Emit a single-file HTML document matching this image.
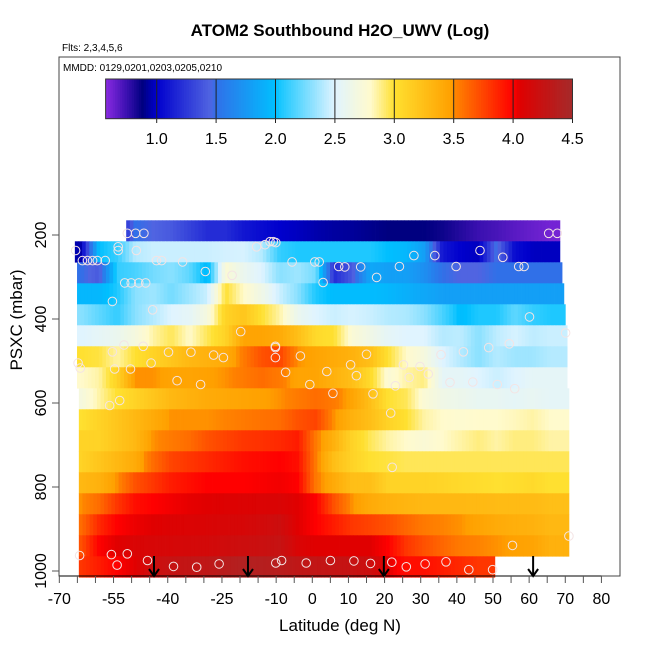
<!DOCTYPE html>
<html><head><meta charset="utf-8"><style>
html,body{margin:0;padding:0;background:#fff;}
svg{display:block;font-family:"Liberation Sans",Arial,sans-serif;}
</style></head><body>
<svg id="chart" width="650" height="650" viewBox="0 0 650 650">
<text x="340" y="36" text-anchor="middle" font-size="17" font-weight="bold">ATOM2 Southbound H2O_UWV (Log)</text>
<text x="62" y="51" font-size="10">Flts: 2,3,4,5,6</text>
<text x="63" y="71" font-size="10">MMDD: 0129,0201,0203,0205,0210</text>
<g id="heat"></g>
<g id="pts"></g>
<g id="arrows"></g>
<rect x="59" y="57" width="561" height="519" fill="none" stroke="#444" stroke-width="1"/>
<g id="cbar"></g>
<g id="xaxis"></g>
<g id="yaxis"></g>
<text x="340" y="631" text-anchor="middle" font-size="17">Latitude (deg N)</text>
<text transform="translate(22,320) rotate(-90)" text-anchor="middle" font-size="17">PSXC (mbar)</text>
</svg>
<script>
const colLats = [-64,-59,-54,-49,-44,-39,-34,-29,-24,-19,-14,-9,-4,1,6,11,16,21,26,31,36,41,46,51,56,61,66];
const rowPres = [190,240,290,340,390,440,490,540,590,640,690,740,790,840,890,940,990];
const rowStart = [-51.5,-65.7,-65.1,-65.1,-65.1,-65.1,-65.1,-65.1,-64.6,-64.6,-64.6,-64.6,-64.6,-64.6,-64.6,-64.6,-64.6];
const rowEnd = [68.5,68.5,69.1,69.6,70,70.5,70.5,70.5,71,71,71,71,71,71,71,71,50.5];
const r0=[1.0,1.0,1.0,1.5,1.45,1.4,1.3,1.2,1.2,1.1,1.05,1.0,0.98,0.95,0.93,0.92,0.9,0.88,0.88,0.88,0.85,0.8,0.75,0.72,0.68,0.65,0.62];
const r1=[0.95,2.0,2.1,2.4,2.45,2.45,2.45,2.45,2.47,2.48,2.4,2.1,2.05,2.05,2.05,2.05,2.05,2.0,1.95,1.8,1.1,1.0,0.98,1.5,1.05,0.98,0.98];
const r2=[1.5,1.4,2.1,2.15,2.25,2.3,2.2,1.95,2.75,2.6,2.5,2.3,2.35,2.25,1.2,1.4,1.85,1.8,1.8,1.7,1.5,1.45,1.45,1.5,1.5,1.5,1.5];
const r3=[1.95,1.95,2.05,2.3,2.35,2.25,2.35,2.45,3.0,2.8,2.65,2.45,2.3,2.05,1.98,1.98,1.98,1.95,1.9,1.85,1.8,1.8,1.8,1.8,1.8,1.8,1.8];
const r4=[2.3,2.2,2.1,2.3,2.4,2.5,2.55,2.7,3.1,3.2,3.0,2.85,2.6,2.5,2.45,2.48,2.45,2.4,2.38,2.3,2.15,1.98,2.05,2.05,2.2,2.1,2.05];
const r5=[2.5,2.55,2.6,2.7,2.85,2.95,2.8,2.95,3.1,3.45,3.45,3.4,3.25,3.05,3.0,2.75,2.65,2.55,2.5,2.5,2.4,2.42,2.3,2.42,2.48,2.42,2.45];
const r6=[3.0,2.98,2.85,3.0,3.1,3.2,3.3,3.35,3.4,3.55,3.7,3.75,3.5,3.45,3.4,3.35,3.25,3.0,2.8,2.7,2.5,2.4,2.3,2.4,2.35,2.35,2.4];
const r7=[2.8,2.85,3.1,3.5,3.5,3.45,3.45,3.47,3.5,3.55,3.6,3.55,3.45,3.45,3.35,3.25,3.05,2.75,2.85,2.9,2.55,2.55,2.5,2.45,2.5,2.55,2.55];
const r8=[2.7,2.85,3.0,3.1,3.2,3.3,3.35,3.4,3.42,3.45,3.47,3.5,3.55,3.6,3.55,3.45,3.25,3.0,2.95,2.75,2.65,2.62,2.58,2.58,2.55,2.58,2.55];
const r9=[3.0,3.1,3.2,3.3,3.4,3.5,3.5,3.5,3.52,3.55,3.58,3.6,3.7,3.75,3.5,3.35,3.25,3.1,3.0,2.85,2.8,2.78,2.8,2.8,2.82,2.85,2.8];
const r10=[3.1,3.1,3.2,3.3,3.5,3.55,3.6,3.7,3.75,3.8,3.82,3.85,3.9,3.55,3.35,3.1,2.95,2.85,2.8,2.75,2.8,2.85,2.9,2.85,2.9,2.9,2.85];
const r11=[3.1,3.2,3.3,3.4,3.6,3.75,3.8,3.85,3.9,3.95,3.97,4.0,3.95,3.55,3.25,3.1,3.0,2.98,2.95,2.95,2.95,2.95,2.95,2.95,2.95,2.95,2.95];
const r12=[3.3,3.35,3.5,3.7,3.8,3.9,3.95,4.0,4.0,4.0,4.01,4.02,4.0,3.55,3.4,3.25,3.25,3.1,3.1,3.1,3.08,3.05,3.03,3.0,3.02,3.05,3.0];
const r13=[3.5,3.6,3.8,3.95,4.0,4.02,4.04,4.05,4.07,4.08,4.09,4.1,4.05,4.0,3.7,3.5,3.4,3.35,3.32,3.3,3.3,3.3,3.29,3.28,3.28,3.28,3.25];
const r14=[3.6,3.85,4.0,4.03,4.05,4.08,4.09,4.1,4.12,4.13,4.16,4.2,4.05,4.0,3.9,3.8,3.75,3.7,3.62,3.55,3.52,3.5,3.45,3.4,3.37,3.35,3.3];
const r15=[3.7,4.0,4.05,4.1,4.12,4.13,4.14,4.15,4.18,4.2,4.22,4.25,4.1,4.05,4.05,4.05,4.05,4.0,3.8,3.7,3.62,3.55,3.52,3.5,3.47,3.45,3.35];
const r16=[3.8,3.9,4.0,4.05,4.2,4.25,4.28,4.3,4.35,4.4,4.38,4.35,4.3,4.28,4.26,4.25,4.2,4.05,3.95,3.95,3.9,3.85,3.8,3.8,3.8,3.8,3.8];
const rowValues=[r0,r1,r2,r3,r4,r5,r6,r7,r8,r9,r10,r11,r12,r13,r14,r15,r16];
const ptLat=[-51.2,-48.9,-46.6,65.4,67.8,-65.5,-53.7,-53.7,-48.7,-15.4,-13.1,-11.7,-10.8,-10.1,28.1,33.9,46.4,52.7,-63.6,-62.2,-60.8,-59.5,-57.3,-43.1,-41.7,-35.9,-5.6,0.7,1.9,7.3,9.0,13.4,24.1,39.8,57.1,58.6,-29.6,-22.2,17.8,-51.9,-50.1,-48,-46.1,3.0,-55.3,-44.2,60.1,-19.8,70.1,-52.1,-46.8,-10.2,-10.2,-10.2,-55.3,-39.8,-33.6,-27.3,-24.6,-3.3,15.0,35.6,41.8,48.8,54.5,-64.8,-64.2,-54.7,-50.3,-44.6,-7.4,4.0,10.6,12.2,25.2,29.8,32.1,26.8,-37.4,-30.9,-0.7,23.0,38.1,44.4,51.2,56.0,5.7,16.8,-56.1,-53.3,21.7,22.1,71.0,55.4,-64.4,-55.6,-51.2,-54.0,-45.6,-38.4,-32.0,-25.8,-10.1,-8.5,-1.7,5.0,11.5,16.1,22.0,26.0,31.2,37.0,43.3,49.9];
const ptPres=[196,196,196,196,196,237,228,237,237,228,223,216,216,218,249,249,237,253,261,261,261,261,261,261,261,264,264,264,264,275,276,276,275,275,275,275,287,296,301,314,314,314,314,313,358,378,395,430,433,462,465,465,468,492,478,479,479,486,492,488,484,485,478,468,459,505,517,519,519,505,527,525,509,535,509,513,531,539,547,556,556,559,551,550,556,566,577,578,606,594,624,753,917,939,963,961,959,986,975,989,991,983,981,975,981,975,976,982,979,990,983,978,997,997];
const arrowLat=[-43.8,-17.8,19.8,61.1];
const xTicks=[-70,-65,-60,-55,-50,-45,-40,-35,-30,-25,-20,-15,-10,-5,0,5,10,15,20,25,30,35,40,45,50,55,60,65,70,75,80];
const xLabels=[-70,-55,-40,-25,-10,0,10,20,30,40,50,60,70,80];
const yTicks=[200,400,600,800,1000];
const cbarTicks=[1.0,1.5,2.0,2.5,3.0,3.5,4.0,4.5];
const cbarMin=0.57, cbarMax=4.5;

const NS="http://www.w3.org/2000/svg";
const xs=l=>312.3+3.614*l;
const ys=p=>151+0.42*p;
const cbx=v=>156.7+118.8*(v-1.0);
const stops=[[0.57,[138,43,226]],[0.75,[58,16,176]],[0.88,[0,0,128]],[1.0,[0,0,205]],[1.45,[80,100,225]],[1.5,[48,112,232]],[2.0,[0,191,255]],[2.05,[30,200,255]],[2.5,[224,244,255]],[2.8,[255,250,205]],[3.0,[255,224,48]],[3.48,[255,160,0]],[3.52,[255,130,0]],[4.0,[255,0,0]],[4.05,[224,0,0]],[4.5,[165,42,42]]];
function col(v){
  if(v<=stops[0][0]) return 'rgb('+stops[0][1]+')';
  for(let i=1;i<stops.length;i++){
    if(v<=stops[i][0]){
      const a=stops[i-1],b=stops[i],t=(v-a[0])/(b[0]-a[0]);
      const c=a[1].map((x,k)=>Math.round(x+(b[1][k]-x)*t));
      return 'rgb('+c+')';
    }
  }
  return 'rgb('+stops[stops.length-1][1]+')';
}
function interp(vals,l){
  if(l<=colLats[0]) return vals[0];
  const n=colLats.length;
  if(l>=colLats[n-1]) return vals[n-1];
  for(let i=1;i<n;i++){ if(l<=colLats[i]){const t=(l-colLats[i-1])/(colLats[i]-colLats[i-1]);return vals[i-1]+(vals[i]-vals[i-1])*t;} }
}
function mk(tag,attrs,parent){const e=document.createElementNS(NS,tag);for(const k in attrs)e.setAttribute(k,attrs[k]);parent.appendChild(e);return e;}

const heat=document.getElementById('heat');
rowPres.forEach((p,ri)=>{
  const y0=ys(p-25), y1=ys(p+25);
  const g=mk('g',{},heat);
  
  
  const step=1;
  for(let l=rowStart[ri]; l<rowEnd[ri]; l+=step){
    const l2=Math.min(l+step,rowEnd[ri]);
    const v=interp(rowValues[ri],(l+l2)/2);
    const r=mk('rect',{x:xs(l).toFixed(2),y:y0.toFixed(2),width:(xs(l2)-xs(l)+0.4).toFixed(2),height:(y1-y0+0.3).toFixed(2),fill:col(v)},g);
    
    
  }
});
const pts=document.getElementById('pts');
ptLat.forEach((l,i)=>{
  const c=mk('circle',{cx:xs(l).toFixed(1),cy:ys(ptPres[i]).toFixed(1),r:4.3,fill:'none',stroke:'#f4e4e4','stroke-width':1},pts);
  
  
});
const arr=document.getElementById('arrows');
arrowLat.forEach(l=>{
  const x=xs(l);
  const g=mk('g',{stroke:'#000','stroke-width':2,fill:'none'},arr);
  
  
  mk('line',{x1:x,y1:556,x2:x,y2:576},g);
  mk('polyline',{points:(x-5)+',569 '+x+',576 '+(x+5)+',569'},g);
});
const xa=document.getElementById('xaxis');
mk('line',{x1:xs(-70),y1:576,x2:xs(80),y2:576,stroke:'#000'},xa);
xTicks.forEach(t=>{const l=mk('line',{x1:xs(t),y1:576,x2:xs(t),y2:583,stroke:'#555'},xa);
  
  });
xLabels.forEach(t=>{const tx=mk('text',{x:xs(t),y:604,'text-anchor':'middle','font-size':16},xa);tx.textContent=String(t);
  
  });
const ya=document.getElementById('yaxis');
yTicks.forEach(t=>{const l=mk('line',{x1:52,y1:ys(t),x2:59,y2:ys(t),stroke:'#555'},ya);
  
  
  const tx=mk('text',{transform:'translate(46,'+ys(t)+') rotate(-90)','text-anchor':'middle','font-size':16},ya);tx.textContent=String(t);
  
  });
const cb=document.getElementById('cbar');
for(let v=cbarMin; v<cbarMax; v+=0.02){
  const v2=Math.min(v+0.02,cbarMax);
  const r=mk('rect',{x:cbx(v).toFixed(2),y:79,width:(cbx(v2)-cbx(v)+0.4).toFixed(2),height:39.7,fill:col((v+v2)/2)},cb);
  
  
}
cbarTicks.forEach(t=>{
  const l=mk('line',{x1:cbx(t),y1:79,x2:cbx(t),y2:123,stroke:'#222','stroke-width':1},cb);
  
  
  const tx=mk('text',{x:cbx(t),y:144,'text-anchor':'middle','font-size':16},cb);tx.textContent=t.toFixed(1);
  
  
});
mk('rect',{x:cbx(cbarMin),y:79,width:cbx(cbarMax)-cbx(cbarMin),height:39.7,fill:'none',stroke:'#333'},cb);
</script>
</body></html>
